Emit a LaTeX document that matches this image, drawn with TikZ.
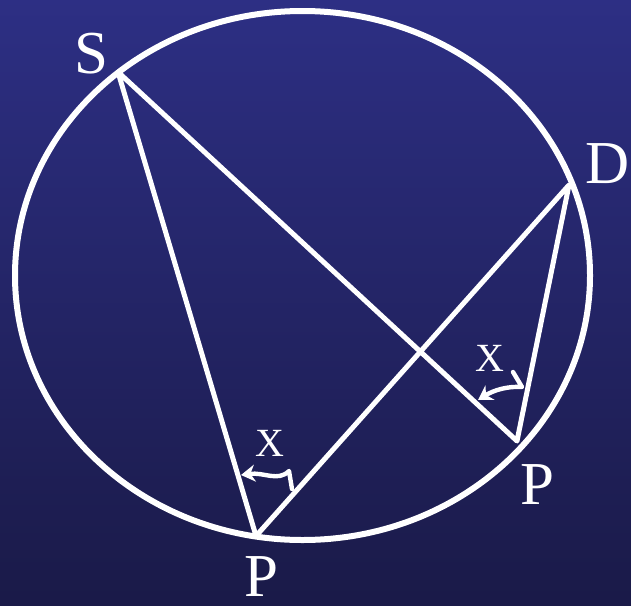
\documentclass[tikz,border=0pt]{standalone}
\usepackage{fontspec}
\setmainfont{Liberation Serif}
\usetikzlibrary{arrows.meta}
\definecolor{bgtop}{RGB}{45,47,132}
\definecolor{bgbot}{RGB}{26,26,72}
\tikzset{
  geo/.style={draw=white,line width=5pt,line join=round},
  marker/.style={draw=white,line width=4.4pt,line cap=round,line join=round,-{Stealth[length=14pt,width=17pt]}},
  biglabel/.style={text=white,font=\fontsize{61}{68}\selectfont,inner sep=0pt,text depth=0pt},
  xlabel/.style={text=white,font=\fontsize{40}{46}\selectfont,inner sep=0pt,text depth=0pt}
}
\begin{document}
\begin{tikzpicture}[x=1pt,y=-1pt]
\useasboundingbox (0,0) rectangle (631,605);
\shade[top color=bgtop,bottom color=bgbot] (0,0) rectangle (631,605);
% circle
\draw[geo,line width=6pt] (302.5,275.5) ellipse [x radius=287.5,y radius=264.5];
\coordinate (S) at (118,72);
\coordinate (D) at (569,185);
\coordinate (P1) at (256,536);
\coordinate (P2) at (517,441);
\draw[geo] (S) -- (P1) -- (D) -- (P2) -- (S);
% angle markers
\draw[marker] (292,489) -- (289,471) .. controls (278,482) and (264,472) .. (241,475);
\draw[marker] (513,372) -- (522,387) .. controls (508,386) and (494,390) .. (478,400);
% labels
\node[biglabel] (lS) at (91,53) {S};
\node[biglabel] (lD) at (608,164) {D};
\node[biglabel] (lP1) at (261,577) {P};
\node[biglabel] (lP2) at (537,485) {P};
\node[xlabel] (x1) at (270,443) {X};
\node[xlabel] (x2) at (490,358) {X};
\end{tikzpicture}
\end{document}
